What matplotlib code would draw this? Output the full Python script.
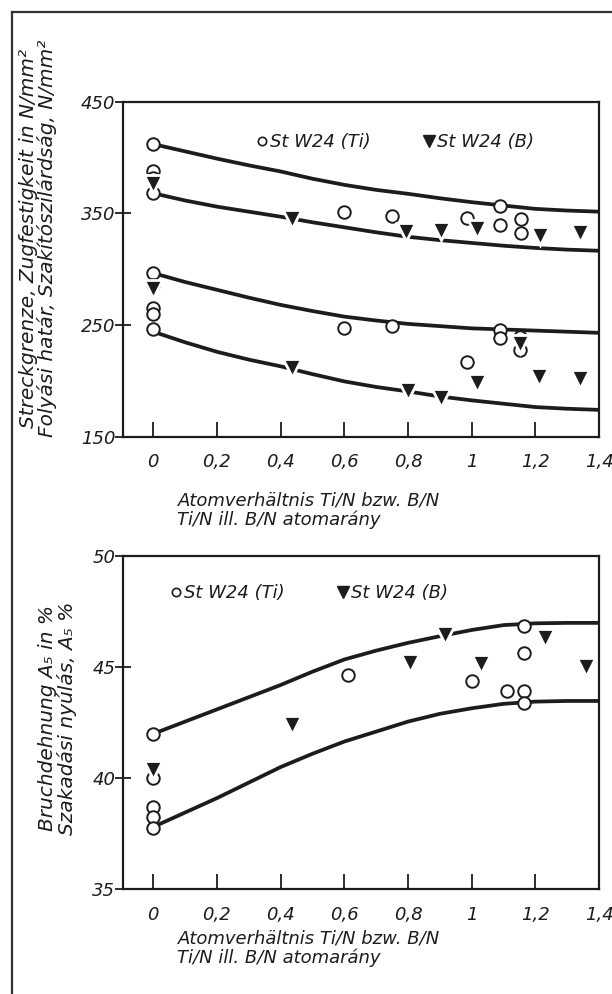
import matplotlib
matplotlib.use("Agg")
import matplotlib.pyplot as plt
from matplotlib.lines import Line2D

plt.rcParams['font.family'] = ['DejaVu Sans']
plt.rcParams['font.style'] = 'italic'

INK = '#1c1c1c'

# x positions of the hand-drawn fit curves
curve_x = [0.0, 0.1, 0.2, 0.3, 0.4, 0.5, 0.6, 0.7, 0.8, 0.9, 1.0, 1.1, 1.2, 1.3, 1.4]

# --- upper panel: strength, N/mm2 ---
tensile_ti_fit = [412, 405.5, 399, 393, 387.5, 381, 375.5, 371, 367.5, 363.5, 360, 357, 354, 352.5, 351.5]
tensile_b_fit = [368, 361.5, 356, 351.5, 347, 342, 337.5, 333, 329, 326, 323.5, 321, 319, 317.5, 316.5]
yield_ti_fit = [296.5, 288.5, 281.5, 274.5, 268, 262.5, 257.5, 254, 251, 249, 247, 246, 245, 244, 243]
yield_b_fit = [244, 234.5, 226, 219, 213, 206, 199.5, 194.5, 190.5, 186, 182.5, 179.5, 176.5, 175, 174]

ti_x = [0, 0, 0, 0, 0, 0, 0, 0, 0, 0.60, 0.75, 0.985, 1.09, 1.09, 1.155, 1.155,
        0.60, 0.75, 1.09, 1.09, 1.15, 1.15, 0.985]
ti_y = [412, 387.5, 381.5, 368, 296.5, 286, 265, 259.5, 246, 351, 348, 345.5, 357, 339.5, 345, 332,
        247, 249.5, 245.5, 238, 239.5, 228, 217]
b_x = [0, 0, 0.435, 0.795, 0.905, 1.015, 1.215, 1.34, 0.435, 0.80, 0.905, 1.015, 1.21, 1.34, 1.15]
b_y = [376, 282, 345, 333.5, 334, 336, 329.5, 332.5, 211.5, 190.5, 184.5, 198, 203, 202, 233]

# --- lower panel: elongation A5, % ---
elong_hi_fit = [42.0, 42.55, 43.1, 43.65, 44.2, 44.8, 45.35, 45.75, 46.1, 46.4, 46.68, 46.9, 46.98, 47.0, 47.0]
elong_lo_fit = [37.8, 38.45, 39.1, 39.8, 40.5, 41.1, 41.65, 42.1, 42.55, 42.9, 43.15, 43.35, 43.45, 43.48, 43.48]

ti_x2 = [0, 0, 0, 0, 0, 0.61, 1.0, 1.11, 1.165, 1.165, 1.165, 1.165]
ti_y2 = [42.0, 40.0, 38.7, 38.25, 37.75, 44.65, 44.4, 43.95, 46.85, 45.65, 43.95, 43.4]
b_x2 = [0, 0.435, 0.805, 0.915, 1.03, 1.23, 1.36]
b_y2 = [40.35, 42.4, 45.2, 46.45, 45.15, 46.3, 45.0]

x_ticks = [0, 0.2, 0.4, 0.6, 0.8, 1.0, 1.2, 1.4]
x_ticklabels = ['0', '0,2', '0,4', '0,6', '0,8', '1', '1,2', '1,4']

lbl_ti = 'St W24 (Ti)'
lbl_b = 'St W24 (B)'
xlabel = 'Atomverhältnis Ti/N bzw. B/N\nTi/N ill. B/N atomarány'
ylabel_top = 'Streckgrenze, Zugfestigkeit in N/mm²\nFolyási határ, Szakítószilárdság, N/mm²'
ylabel_bot = 'Bruchdehnung A₅ in %\nSzakadási nyúlás, A₅ %'

fig = plt.figure(figsize=(6.12, 9.94), dpi=100)
ax1 = fig.add_axes([0.201, 0.5607, 0.778, 0.337])
ax2 = fig.add_axes([0.201, 0.1056, 0.778, 0.3347])


def style(ax, ylim, yticks):
    ax.set_xlim(-0.095, 1.4)
    ax.set_ylim(*ylim)
    ax.set_xticks(x_ticks)
    ax.set_xticklabels(x_ticklabels)
    ax.set_yticks(yticks)
    ax.tick_params(axis='x', direction='in', length=11, width=1.3, pad=12,
                   labelsize=13, color=INK, labelcolor=INK)
    ax.tick_params(axis='y', direction='inout', length=11, width=1.3, pad=0,
                   labelsize=13, color=INK, labelcolor=INK)
    for s in ax.spines.values():
        s.set_linewidth(1.6)
        s.set_color(INK)


def draw(ax, fits, tx, ty, bx, by):
    for f in fits:
        ax.plot(curve_x, f, color=INK, lw=2.7, solid_capstyle='butt', zorder=2)
    ax.plot(tx, ty, 'o', ms=9, mfc='white', mec=INK, mew=1.4, ls='none', zorder=3)
    ax.plot(bx, by, 'v', ms=13.5, mfc=INK, mec='white', mew=2.0, ls='none', zorder=4)


def legend(ax, x0, y0):
    h = [Line2D([], [], marker='o', ls='none', ms=6, mfc='white', mec=INK, mew=1.2),
         Line2D([], [], marker='v', ls='none', ms=8.5, mfc=INK, mec=INK)]
    ax.legend(h, [lbl_ti, lbl_b], ncol=2, frameon=False, loc='center left',
              bbox_to_anchor=(x0, y0), borderpad=0, handlelength=0.6,
              handletextpad=0.15, columnspacing=2.9, prop={'size': 13, 'style': 'italic'},
              labelcolor=INK)


style(ax1, (150, 450), [150, 250, 350, 450])
draw(ax1, [tensile_ti_fit, tensile_b_fit, yield_ti_fit, yield_b_fit], ti_x, ti_y, b_x, b_y)
legend(ax1, 0.262, 0.88)

style(ax2, (35, 50), [35, 40, 45, 50])
draw(ax2, [elong_hi_fit, elong_lo_fit], ti_x2, ti_y2, b_x2, b_y2)
legend(ax2, 0.081, 0.889)

# axis titles (two languages, stacked)
fig.text(0.29, 1 - 510 / 994, xlabel, fontsize=13, color=INK, ha='left', va='center', linespacing=1.05)
fig.text(0.29, 1 - 948 / 994, xlabel, fontsize=13, color=INK, ha='left', va='center', linespacing=1.05)
fig.text(0.062, 1 - 238 / 994, ylabel_top, fontsize=14.5, color=INK, rotation=90,
         ha='center', va='center', multialignment='center', linespacing=0.95)
fig.text(0.094, 1 - 718 / 994, ylabel_bot, fontsize=14.5, color=INK, rotation=90,
         ha='center', va='center', multialignment='center', linespacing=1.05)

# scanned page frame (top and left edges only)
fig.add_artist(Line2D([12 / 612, 1.0], [1 - 12 / 994, 1 - 12 / 994], transform=fig.transFigure,
                      color='#333333', lw=1.6))
fig.add_artist(Line2D([12 / 612, 12 / 612], [1 - 12 / 994, 0.0], transform=fig.transFigure,
                      color='#333333', lw=1.6))

fig.savefig('out.png', dpi=100, facecolor='white')
